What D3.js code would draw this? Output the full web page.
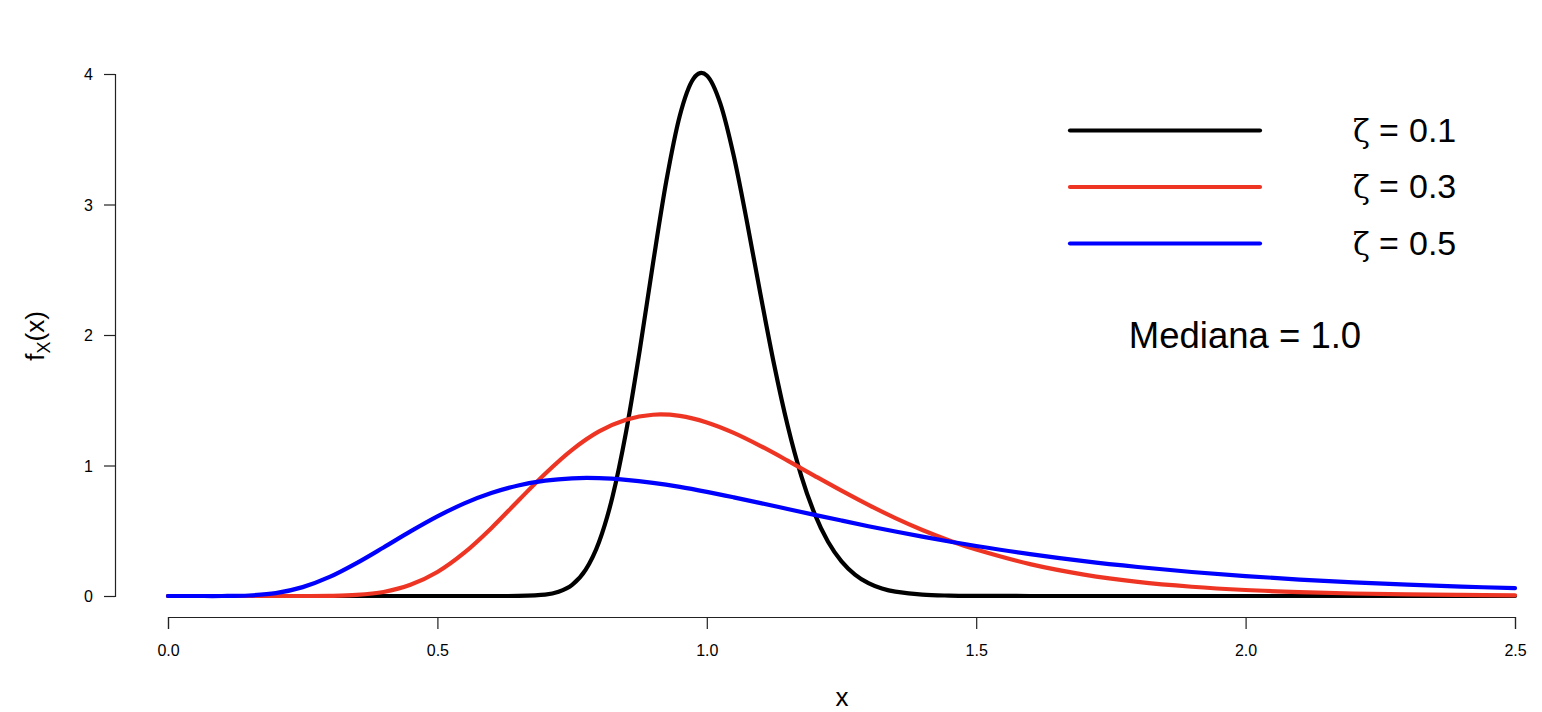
<!DOCTYPE html>
<html>
<head>
<meta charset="utf-8">
<script src="https://cdn.jsdelivr.net/npm/d3@7"></script>
<style>
body{margin:0;background:#fff}
text{font-family:"Liberation Sans",Arial,Helvetica,sans-serif;fill:#000}
</style>
</head>
<body>
<svg id="chart" width="1542" height="712"></svg>
<script>
// x positions shared by the red and blue curves
var xs = [0,0.05,0.1,0.15,0.2,0.25,0.3,0.35,0.4,0.45,0.5,0.55,0.6,0.65,0.7,0.75,0.8,0.85,0.9,0.95,1.0,
	1.05,1.1,1.15,1.2,1.25,1.3,1.35,1.4,1.45,1.5,1.6,1.7,1.8,1.9,2.0,2.1,2.2,2.3,2.4,2.5]
var zeta03 = [0,0,0,0,0,0,0.001,0.008,0.031,0.086,0.184,0.332,0.520,0.730,0.937,1.120,1.261,1.351,1.389,1.380,1.330,
	1.250,1.149,1.037,0.921,0.807,0.698,0.597,0.506,0.426,0.356,0.244,0.164,0.108,0.071,0.046,0.030,0.019,0.012,0.008,0.005]
var zeta05 = [0,0,0.000,0.004,0.022,0.068,0.146,0.252,0.372,0.495,0.610,0.710,0.789,0.847,0.884,0.902,0.903,0.890,0.867,0.836,0.798,
	0.756,0.712,0.667,0.622,0.578,0.535,0.494,0.455,0.418,0.383,0.321,0.267,0.222,0.184,0.153,0.126,0.105,0.087,0.072,0.060]
// the narrow curve needs a finer step round its peak
var xsNarrow = [0,0.2,0.4,0.6,0.65,0.7,0.725,0.75,0.775,0.8,0.825,0.85,0.875,0.9,0.925,0.95,0.975,1.0,1.025,1.05,1.075,
	1.1,1.125,1.15,1.175,1.2,1.225,1.25,1.275,1.3,1.325,1.35,1.4,1.45,1.5,1.6,1.8,2.0,2.5]
var zeta01 = [0,0,0,0,0.001,0.010,0.032,0.085,0.200,0.414,0.760,1.253,1.869,2.545,3.182,3.682,3.963,3.989,3.775,3.373,2.857,
	2.303,1.772,1.306,0.925,0.631,0.415,0.265,0.164,0.098,0.057,0.033,0.010,0.003,0.001,0,0,0,0]

var seriesZeta = ['0.1','0.3','0.5']
var seriesColors = ['#000000','#EE3524','#0000FF']
var xTicks = [0,0.5,1,1.5,2,2.5]
var yTicks = [0,1,2,3,4]

var svg = d3.select('#chart')
var x = d3.scaleLinear().domain([0,2.5]).range([168,1515])
var y = d3.scaleLinear().domain([0,4]).range([596,74])

var series = [
	{zeta:seriesZeta[0], xs:xsNarrow, ys:zeta01, color:seriesColors[0]},
	{zeta:seriesZeta[1], xs:xs, ys:zeta03, color:seriesColors[1]},
	{zeta:seriesZeta[2], xs:xs, ys:zeta05, color:seriesColors[2]}
]

// axes, R style: detached from the plot area
var xAxis = svg.append('g').attr('transform','translate(0,617)')
	.call(d3.axisBottom(x).tickValues(xTicks).tickFormat(d3.format('.1f')).tickSizeOuter(0).tickSize(12).tickPadding(16))
var yAxis = svg.append('g').attr('transform','translate(115,0)')
	.call(d3.axisLeft(y).tickValues(yTicks).tickFormat(d3.format('d')).tickSizeOuter(0).tickSize(11).tickPadding(11))
;[xAxis,yAxis].forEach(a=>{
	a.attr('font-size',null).attr('font-family',null)
	a.select('.domain').attr('stroke','#222').attr('stroke-width',1.2)
	a.selectAll('.tick line').attr('stroke','#222').attr('stroke-width',1.2)
	a.selectAll('.tick text').style('font-size','16px').attr('fill','#000')
})
yAxis.selectAll('.tick text').attr('dy','0.35em')

svg.append('text').text('x')
	.attr('x',842).attr('y',706)
	.attr('text-anchor','middle')
	.style('font-size','26px')

var ylab = svg.append('text')
	.attr('transform','translate(44,336) rotate(-90)')
	.attr('text-anchor','middle')
	.style('font-size','26px')
ylab.append('tspan').text('f')
ylab.append('tspan').text('X').attr('dy',6).style('font-size','18px')
ylab.append('tspan').text('(x)').attr('dy',-6)

// curves
var line = d3.line().curve(d3.curveCardinal.tension(0))
var curves = svg.append('g').attr('id','curves')
series.forEach((s,i)=>{
	var pts = s.xs.map((v,j)=>[x(v),y(s.ys[j])])
	curves.append('path').datum(pts)
		.attr('d',line)
		.attr('fill','none')
		.attr('stroke',s.color)
		.attr('stroke-width',4.2)
		.attr('stroke-linecap','round')
		.attr('stroke-linejoin','round')
})

// legend
var legend = svg.append('g').attr('id','legend')
series.forEach((s,i)=>{
	var ly = 130.5 + i*56.5
	legend.append('line')
		.attr('x1',1070).attr('x2',1260)
		.attr('y1',ly).attr('y2',ly)
		.attr('stroke',s.color).attr('stroke-width',4.2)
		.attr('stroke-linecap','round')
	var t = legend.append('text').attr('y',ly+11).style('font-size','34px')
	t.append('tspan').text('\u03b6').attr('x',1353)
		.style('font-family','"DejaVu Serif","Liberation Serif",serif').style('font-size','31px')
	t.append('tspan').text('=').attr('x',1379)
	t.append('tspan').text(s.zeta).attr('x',1409)
})

svg.append('text').text('Mediana = 1.0')
	.attr('x',1245).attr('y',348)
	.attr('text-anchor','middle')
	.style('font-size','36.5px')
</script>
</body>
</html>
